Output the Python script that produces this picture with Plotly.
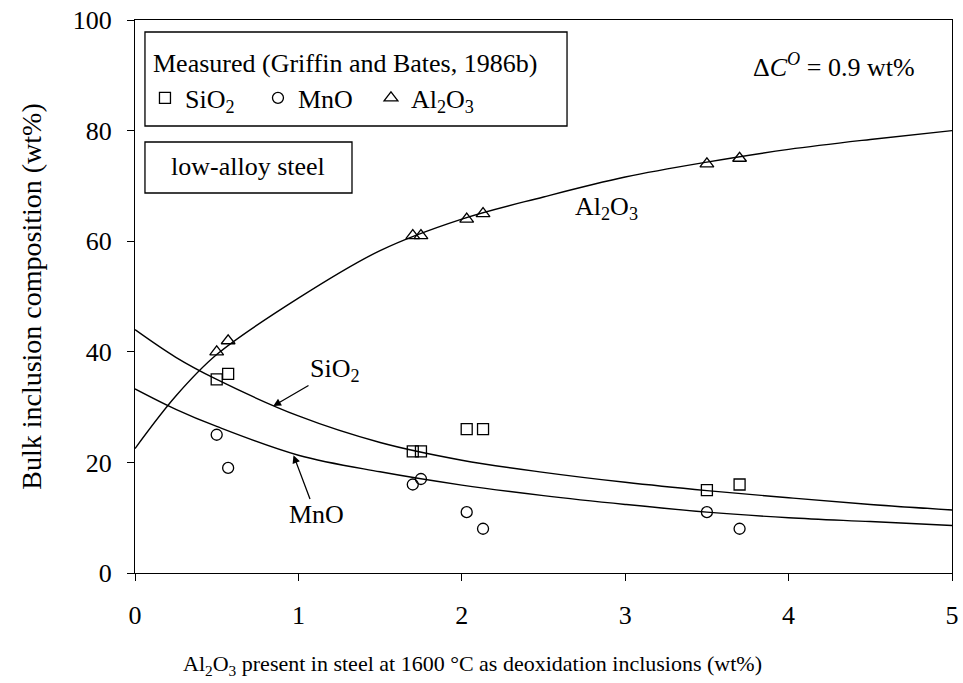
import plotly.graph_objects as go

# Measured bulk inclusion compositions (wt%) vs. Al2O3 deoxidation inclusions (wt%)
meas_x = [0.50, 0.57, 1.70, 1.75, 2.03, 2.13, 3.50, 3.70]
sio2_meas = [35, 36, 22, 22, 26, 26, 15, 16]
mno_meas = [25, 19, 16, 17, 11, 8, 11, 8]
al2o3_meas = [40, 42, 61, 61, 64, 65, 74, 75]

# Calculated composition curves
curve_x = [0, 0.25, 0.5, 1, 1.5, 2, 2.5, 3, 3.5, 4, 4.5, 5]
al2o3_curve = [22.5, 32, 39.5, 49.7, 58.3, 64, 68, 71.6, 74.3, 76.6, 78.4, 80]
sio2_curve = [44, 39, 35, 28.4, 23.6, 20.4, 18.2, 16.4, 14.9, 13.6, 12.4, 11.4]
mno_curve = [33.3, 29.6, 26.5, 21.3, 18.3, 15.9, 14.0, 12.4, 11.0, 10.0, 9.3, 8.6]

x_ticks = [0, 1, 2, 3, 4, 5]
y_ticks = [0, 20, 40, 60, 80, 100]

FONT = '"Liberation Serif", "Times New Roman", Times, serif'
FS = 26

fig = go.Figure()

for ys in (al2o3_curve, sio2_curve, mno_curve):
    fig.add_trace(go.Scatter(
        x=curve_x, y=ys, mode="lines",
        line=dict(color="black", width=1.4, shape="spline", smoothing=1.0),
        showlegend=False, hoverinfo="skip",
    ))

markers = [
    ("SiO<sub>2</sub>", sio2_meas, "square-open", 11),
    ("MnO", mno_meas, "circle-open", 11),
    ("Al<sub>2</sub>O<sub>3</sub>", al2o3_meas, "triangle-up-open", 12),
]
for name, ys, sym, sz in markers:
    fig.add_trace(go.Scatter(
        x=meas_x, y=ys, mode="markers", name=name,
        marker=dict(symbol=sym, size=sz, color="black", line=dict(color="black", width=1.3)),
    ))

axis_common = dict(
    showgrid=False, zeroline=False, showline=True, linecolor="black", linewidth=1.2,
    mirror=True, ticks="outside", ticklen=7, tickwidth=1.2, tickcolor="black",
    automargin=False,
    tickfont=dict(family=FONT, size=FS, color="black"),
)

fig.update_xaxes(range=[0, 5], tickvals=x_ticks, ticklabelstandoff=12, **axis_common)
fig.update_yaxes(
    range=[0, 100], tickvals=y_ticks, ticklabelstandoff=10,
    title=dict(text="Bulk inclusion composition (wt%)",
               font=dict(family=FONT, size=28, color="black"), standoff=22),
    **axis_common,
)

# Legend frame and the "low-alloy steel" box
fig.add_shape(type="rect", xref="paper", yref="paper", x0=0.0122, x1=0.5288, y0=0.8083, y1=0.9783,
              line=dict(color="black", width=1.3), fillcolor="white", layer="below")
fig.add_shape(type="rect", xref="paper", yref="paper", x0=0.0122, x1=0.2656, y0=0.6872, y1=0.7794,
              line=dict(color="black", width=1.3), fillcolor="white", layer="below")

ann_font = dict(family=FONT, size=FS, color="black")
annotations = [
    dict(text="Al<sub>2</sub>O<sub>3</sub> present in steel at 1600 °C as deoxidation inclusions (wt%)",
         xref="paper", yref="paper", x=0.0563, y=-0.166, xanchor="left", yanchor="middle",
         showarrow=False, font=dict(family=FONT, size=22, color="black")),
    dict(text="Measured (Griffin and Bates, 1986b)", xref="paper", yref="paper",
         x=0.019, y=0.922, xanchor="left", yanchor="middle", showarrow=False, font=ann_font),
    dict(text="low-alloy steel", xref="paper", yref="paper",
         x=0.1383, y=0.735, xanchor="center", yanchor="middle", showarrow=False, font=ann_font),
    dict(text="Δ<i>C</i><sup><i>O</i></sup> = 0.9 wt%", xref="paper", yref="paper",
         x=0.754, y=0.918, xanchor="left", yanchor="middle", showarrow=False, font=ann_font),
    dict(text="Al<sub>2</sub>O<sub>3</sub>", x=2.883, y=66.0, xref="x", yref="y",
         showarrow=False, font=ann_font),
    dict(text="SiO<sub>2</sub>", x=0.846, y=30.2, ax=1.224, ay=36.7, xref="x", yref="y",
         axref="x", ayref="y", showarrow=True, arrowhead=2, arrowsize=1.2, arrowwidth=1.3,
         arrowcolor="black", standoff=0, font=ann_font),
    dict(text="MnO", x=0.97, y=21.3, ax=1.108, ay=10.5, xref="x", yref="y",
         axref="x", ayref="y", showarrow=True, arrowhead=2, arrowsize=1.2, arrowwidth=1.3,
         arrowcolor="black", standoff=0, font=ann_font),
]

fig.update_layout(
    width=963, height=683,
    margin=dict(l=135, r=11, t=20, b=110),
    paper_bgcolor="white", plot_bgcolor="white",
    font=dict(family=FONT, size=FS, color="black"),
    showlegend=True,
    legend=dict(orientation="h", x=0.0122, y=0.859, xanchor="left", yanchor="middle",
                bgcolor="rgba(0,0,0,0)", borderwidth=0, entrywidth=68,
                font=dict(family=FONT, size=FS, color="black")),
    annotations=annotations,
)

fig.write_html("out.html")
